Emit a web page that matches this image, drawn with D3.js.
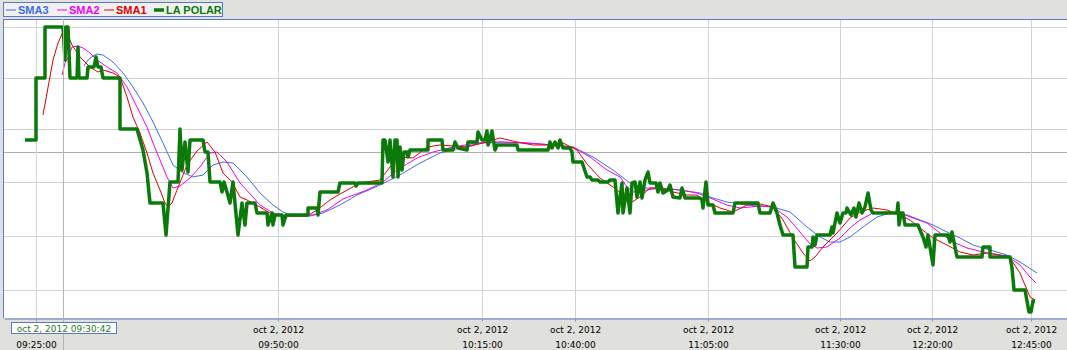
<!DOCTYPE html>
<html>
<head>
<meta charset="utf-8">
<script src="https://cdn.jsdelivr.net/npm/d3@7"></script>
<style>
  body { margin: 0; background: #e0e0dc; }
  svg { display: block; }
</style>
</head>
<body>
<svg id="chart"></svg>
<script>
// sample index (trade sequence) on x, price on y
const tickIdx = [32, 274, 478, 571, 704, 836, 928, 1027]
// first date line sits under the crosshair label, so it is not shown
const tickDate = ["", "oct 2, 2012", "oct 2, 2012", "oct 2, 2012", "oct 2, 2012", "oct 2, 2012", "oct 2, 2012", "oct 2, 2012"]
const tickTime = ["09:25:00", "09:50:00", "10:15:00", "10:40:00", "11:05:00", "11:30:00", "12:20:00", "12:45:00"]

const gridPrices = [302.8, 308.2, 313.6, 318.9, 324.0, 329.1]
const refPrice = 316.6
const crossIdx = 59
const crossLabel = "oct 2, 2012 09:30:42"

const laPolar = [[21,317.8],[32,317.8],[32,324.0],[41,324.0],[41,329.1],[59,329.1],[61,325.8],[62,329.1],[64,329.1],[66,324.0],[73,324.0],[74,327.1],[75,324.0],[83,324.0],[84,325.1],[90,325.1],[92,326.1],[94,325.1],[97,325.1],[99,324.0],[116,324.0],[116,318.9],[133,318.9],[139,316.8],[143,314.5],[146,311.5],[159,311.5],[162,308.3],[166,313.6],[174,313.6],[176,318.9],[178,314.8],[181,317.6],[184,314.6],[186,317.8],[199,317.8],[201,316.6],[204,316.6],[206,313.6],[216,313.6],[218,312.6],[220,313.6],[223,312.6],[226,311.5],[229,313.6],[234,308.3],[238,311.5],[241,309.3],[243,311.5],[251,311.5],[253,310.5],[263,310.5],[264,309.3],[268,310.5],[269,309.3],[271,310.3],[278,310.3],[279,309.3],[282,310.3],[304,310.3],[304,311.0],[313,311.0],[314,310.3],[316,312.6],[334,312.6],[336,313.5],[351,313.5],[352,313.2],[354,313.5],[378,313.5],[379,317.8],[381,317.8],[384,315.6],[386,317.8],[389,314.1],[391,317.8],[393,317.8],[394,314.1],[396,317.1],[398,314.8],[400,316.6],[403,316.6],[404,316.1],[406,316.8],[424,316.8],[424,317.8],[438,317.8],[439,316.8],[449,316.8],[451,317.6],[454,317.0],[463,316.8],[464,317.6],[473,317.6],[474,318.6],[478,317.8],[481,317.8],[483,318.7],[484,317.3],[486,317.8],[488,318.7],[491,316.8],[493,317.3],[513,317.3],[514,316.8],[544,316.8],[546,317.6],[548,317.0],[551,317.6],[554,317.0],[556,317.8],[559,317.0],[566,317.0],[568,316.6],[569,315.6],[578,315.6],[580,315.0],[583,314.1],[586,314.1],[588,313.8],[594,313.8],[596,313.6],[604,313.6],[606,313.8],[611,313.8],[614,310.5],[618,313.5],[619,310.5],[623,313.0],[626,310.5],[628,313.5],[631,313.6],[633,312.1],[636,313.6],[638,312.0],[641,313.8],[644,314.6],[646,313.5],[652,313.5],[654,312.6],[656,313.5],[659,312.5],[664,312.8],[666,313.3],[669,312.1],[676,312.0],[678,313.0],[681,312.0],[696,312.0],[698,311.8],[699,311.0],[702,313.6],[704,311.3],[709,311.3],[711,310.5],[729,310.5],[731,311.5],[754,311.5],[756,310.5],[766,310.5],[769,311.5],[773,310.5],[776,309.3],[779,308.3],[789,308.3],[791,305.1],[803,305.1],[804,307.1],[808,307.1],[809,308.1],[811,307.3],[813,308.3],[826,308.3],[828,309.1],[829,308.5],[831,309.5],[833,310.5],[836,309.5],[839,310.5],[842,310.5],[843,311.0],[847,310.3],[850,311.0],[852,310.1],[855,311.5],[858,310.5],[861,311.1],[864,312.5],[867,310.8],[869,310.5],[893,310.5],[894,311.5],[895,309.3],[897,310.5],[899,310.5],[901,309.3],[914,309.3],[916,308.8],[919,308.1],[922,307.1],[924,308.3],[929,305.3],[931,308.3],[944,308.3],[946,307.6],[948,308.6],[950,307.6],[953,306.1],[978,306.1],[979,307.1],[986,307.1],[986,306.1],[1006,306.1],[1008,305.0],[1010,302.8],[1021,302.8],[1025,300.6],[1027,300.6],[1029,301.7],[1031,301.7]]

const sma1 = [[39,320.3],[43,322.5],[49,325.8],[54,327.5],[59,328.6],[62,328.8],[68,327.3],[76,326.1],[86,325.1],[94,324.6],[99,324.8],[109,324.5],[116,324.1],[123,322.1],[129,320.1],[136,318.5],[143,316.5],[149,314.5],[156,312.8],[161,311.5],[164,311.1],[168,311.5],[173,312.8],[183,315.3],[193,316.7],[203,317.6],[211,316.6],[219,314.5],[228,313.6],[236,312.1],[243,311.8],[256,311.1],[269,310.3],[283,310.2],[303,310.2],[313,310.8],[326,311.8],[336,312.4],[356,313.5],[376,313.8],[386,315.1],[396,316.1],[409,316.0],[423,317.1],[436,317.3],[463,317.1],[483,317.6],[496,318.0],[513,317.6],[529,317.3],[549,317.3],[559,317.5],[573,316.8],[583,315.4],[596,314.0],[609,313.1],[623,312.0],[628,311.6],[636,312.1],[646,313.0],[656,313.0],[669,312.6],[683,312.3],[693,312.3],[703,311.6],[716,311.0],[729,310.6],[743,311.3],[756,311.4],[769,311.1],[779,309.8],[789,308.0],[799,306.5],[806,305.7],[811,306.1],[819,307.1],[833,308.5],[846,310.0],[856,310.6],[869,311.0],[883,310.8],[896,310.3],[906,309.8],[916,309.0],[929,308.0],[943,307.3],[956,306.6],[969,306.3],[983,306.5],[996,306.3],[1006,306.0],[1016,304.5],[1026,302.1],[1031,301.8]]

const sma2 = [[58,324.3],[61,325.5],[64,326.0],[68,327.1],[74,327.2],[79,327.0],[86,326.5],[93,325.8],[103,325.1],[113,324.5],[123,323.1],[133,321.1],[143,319.1],[149,317.5],[156,315.8],[163,314.1],[169,313.0],[176,313.2],[186,314.0],[196,315.1],[206,316.5],[213,316.6],[223,315.6],[236,313.5],[249,312.1],[256,311.3],[269,310.5],[283,310.2],[309,310.3],[323,310.8],[339,311.9],[363,312.8],[379,313.6],[393,314.8],[413,316.0],[429,316.6],[449,317.1],[473,317.5],[496,317.6],[523,317.5],[549,317.3],[569,317.1],[586,316.1],[603,314.8],[616,314.1],[623,313.1],[629,312.6],[643,312.8],[656,313.0],[676,312.8],[693,312.5],[706,312.0],[723,311.3],[736,311.0],[756,311.2],[769,311.1],[783,310.1],[796,308.6],[806,307.4],[813,307.0],[823,307.1],[836,308.0],[846,309.0],[856,309.8],[869,310.5],[883,310.6],[896,310.5],[909,310.0],[923,309.5],[936,308.5],[949,307.6],[963,307.0],[983,306.5],[1003,306.2],[1016,305.3],[1026,304.1],[1032,303.5]]

const sma3 = [[80,325.2],[84,325.8],[89,326.2],[93,326.4],[99,326.3],[109,325.6],[119,324.5],[129,323.1],[139,321.5],[149,319.6],[159,317.5],[169,315.3],[178,314.6],[189,314.1],[199,314.3],[209,315.3],[219,315.6],[229,315.5],[243,314.1],[256,312.5],[269,311.3],[279,310.6],[289,310.2],[306,310.2],[319,310.5],[336,311.3],[353,312.3],[376,313.3],[396,314.3],[416,315.5],[436,316.5],[456,317.0],[476,317.5],[496,317.6],[523,317.5],[549,317.3],[569,317.1],[589,316.1],[609,314.8],[626,313.5],[639,313.0],[656,313.0],[676,312.8],[696,312.5],[709,312.0],[723,311.6],[743,311.3],[769,311.1],[786,310.6],[803,309.1],[816,308.1],[826,307.6],[836,307.6],[846,308.1],[859,309.1],[873,310.1],[886,310.5],[903,310.3],[916,309.8],[929,309.3],[943,308.6],[956,308.0],[969,307.3],[986,306.8],[1003,306.3],[1016,305.6],[1033,304.5]]

const legendNames = ["SMA3", "SMA2", "SMA1", "LA POLAR"]
const legendColors = ["#3d6ee0", "#f000f0", "#e00000", "#0b7a0b"]

var width = 1067
var height = 350
var svg = d3.select("#chart").attr("width", width).attr("height", height)

var x = d3.scaleLinear().domain([0, 1063]).range([4, 1067])
var y = d3.scaleLinear().domain([300, 329.9]).range([318, 19])

// plot background
svg.append("rect")
    .attr("x", x(0)).attr("y", y(329.9))
    .attr("width", x(1063) - x(0)).attr("height", y(300) - y(329.9))
    .attr("fill", "#ffffff")

// grid
svg.append("g").selectAll("line")
    .data(gridPrices)
    .enter().append("line")
    .attr("x1", x(0)).attr("x2", x(1063))
    .attr("y1", d => y(d) + 0.5).attr("y2", d => y(d) + 0.5)
    .attr("stroke", "#d2d2d2")

svg.append("line")
    .attr("x1", x(0)).attr("x2", x(1063))
    .attr("y1", y(refPrice) + 0.5).attr("y2", y(refPrice) + 0.5)
    .attr("stroke", "#acacac")

svg.append("g").selectAll("line")
    .data(tickIdx)
    .enter().append("line")
    .attr("x1", d => Math.round(x(d)) + 0.5).attr("x2", d => Math.round(x(d)) + 0.5)
    .attr("y1", y(329.9)).attr("y2", y(300))
    .attr("stroke", "#d2d2d2")

// series
let line = d3.line()
    .x(d => x(d[0]))
    .y(d => y(d[1]))

svg.append("path").datum(sma3).attr("d", line)
    .attr("fill", "none").attr("stroke", legendColors[0]).attr("stroke-width", 1)
svg.append("path").datum(sma2).attr("d", line)
    .attr("fill", "none").attr("stroke", legendColors[1]).attr("stroke-width", 1)
svg.append("path").datum(sma1).attr("d", line)
    .attr("fill", "none").attr("stroke", legendColors[2]).attr("stroke-width", 1)
svg.append("path").datum(laPolar).attr("d", line)
    .attr("fill", "none").attr("stroke", legendColors[3]).attr("stroke-width", 3.5)
    .attr("stroke-linejoin", "round")

// borders
svg.append("line")
    .attr("x1", x(0) - 0.5).attr("x2", x(0) - 0.5)
    .attr("y1", y(329.9)).attr("y2", y(300))
    .attr("stroke", "#5a78c8")
svg.append("line")
    .attr("x1", x(0)).attr("x2", x(1063))
    .attr("y1", y(329.9) + 0.5).attr("y2", y(329.9) + 0.5)
    .attr("stroke", "#5a78c8")

// x axis
let axis = svg.append("g")
    .attr("transform", "translate(0," + (y(300) + 0.5) + ")")
    .call(d3.axisBottom(x).tickValues(tickIdx).tickSize(3).tickSizeOuter(0).tickFormat(""))

axis.select(".domain").attr("stroke", "#5a78c8")
axis.selectAll(".tick line").attr("stroke", "#8a9ac8")
axis.selectAll(".tick text").remove()
axis.selectAll(".tick").each(function (d, i) {
    let t = d3.select(this).append("text")
        .attr("fill", "#000")
        .attr("font-family", "DejaVu Sans")
        .attr("font-size", "9px")
        .attr("text-anchor", "middle")
    if (tickDate[i]) t.append("tspan").attr("x", 0).attr("y", 14).text(tickDate[i])
    t.append("tspan").attr("x", 0).attr("y", 29).text(tickTime[i])
})

// crosshair
svg.append("line")
    .attr("x1", Math.round(x(crossIdx)) + 0.5).attr("x2", Math.round(x(crossIdx)) + 0.5)
    .attr("y1", y(329.9)).attr("y2", height)
    .attr("stroke", "#b4b4b4")

let cross = svg.append("g")
cross.append("rect")
    .attr("x", 11.5).attr("y", 322.5)
    .attr("width", 105).attr("height", 11)
    .attr("fill", "#ffffff").attr("stroke", "#5a78c8")
cross.append("text")
    .attr("x", 64).attr("y", 331.5)
    .attr("text-anchor", "middle")
    .attr("font-family", "DejaVu Sans")
    .attr("font-size", "9px")
    .attr("fill", "#1f7a1f")
    .text(crossLabel)

// legend
let legend = svg.append("g")
legend.append("rect")
    .attr("x", 3.5).attr("y", 2.5)
    .attr("width", 219).attr("height", 14)
    .attr("fill", "#f0f0f0").attr("stroke", "#5a78c8")

const legendX = [6, 57, 104, 154]
legendNames.forEach((name, i) => {
    legend.append("line")
        .attr("x1", legendX[i]).attr("x2", legendX[i] + 10)
        .attr("y1", 10).attr("y2", 10)
        .attr("stroke", legendColors[i])
        .attr("stroke-width", i === 3 ? 3.5 : 1)
    legend.append("text")
        .attr("x", legendX[i] + 12).attr("y", 14)
        .attr("font-family", "Liberation Sans")
        .attr("font-weight", "bold")
        .attr("font-size", "11px")
        .attr("fill", legendColors[i])
        .text(name)
})
</script>
</body>
</html>
